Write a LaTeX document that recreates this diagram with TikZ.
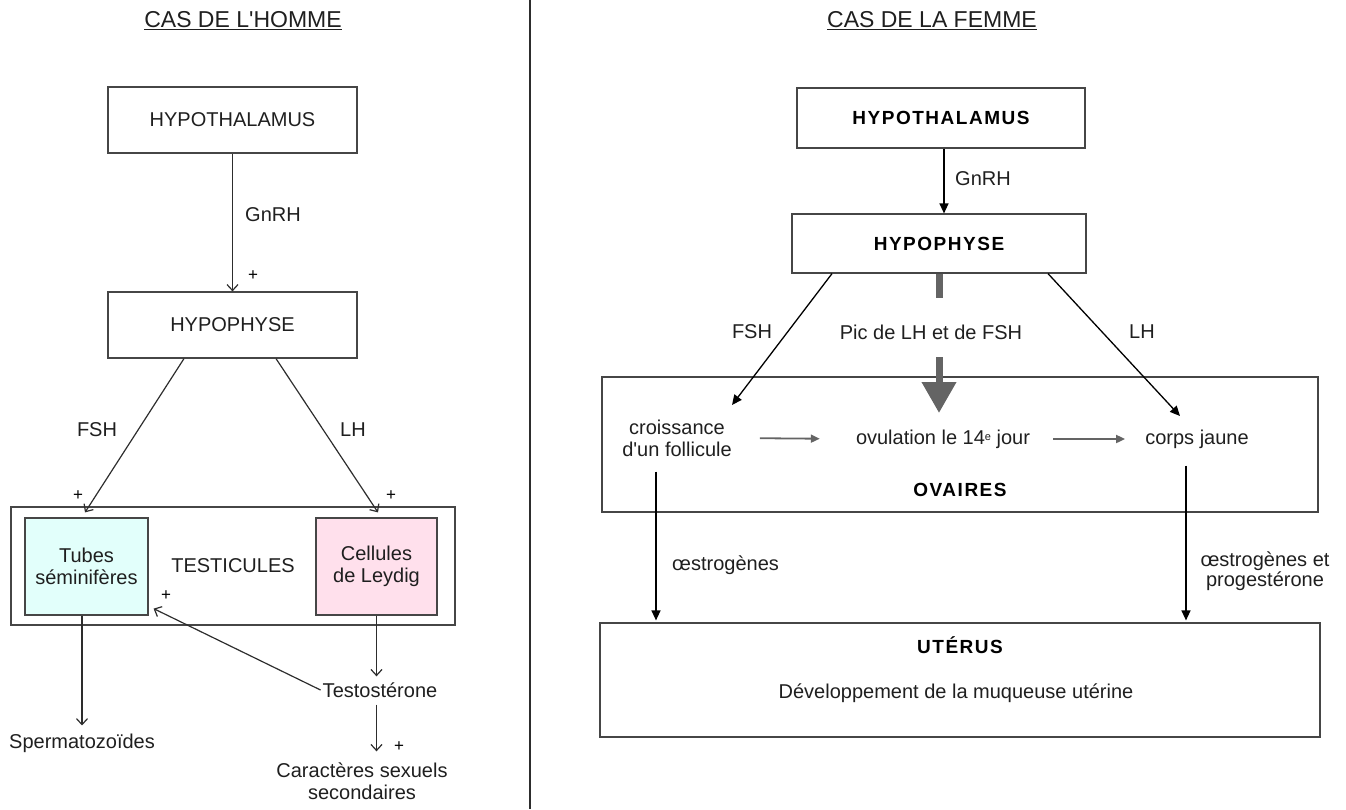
\documentclass[tikz,border=0pt]{standalone}
\usepackage{fontspec}
\setmainfont{Liberation Sans}
\usetikzlibrary{arrows.meta,positioning,calc}
\definecolor{trait}{RGB}{45,45,45}
\definecolor{cadre}{RGB}{70,70,70}
\definecolor{bleutube}{RGB}{226,255,251}
\definecolor{roseleydig}{RGB}{255,224,236}
\definecolor{fleche}{RGB}{100,100,100}
\tikzstyle{boite} = [draw=cadre, line width=1.2pt, inner sep=0pt]
\tikzstyle{texte} = [font=\fontsize{20}{22}\selectfont, text=black!88, align=center, inner sep=2pt]
\tikzstyle{titre} = [font={\fontsize{19}{22}\selectfont\bfseries\addfontfeatures{LetterSpace=8}}, text=black]
\tikzstyle{signe} = [font=\fontsize{17}{18}\selectfont, inner sep=0pt]
\tikzstyle{lien h} = [draw=trait, line width=1.2pt, -{Straight Barb[length=6pt,width=11pt]}]
\tikzstyle{lien f} = [draw=black, line width=1.3pt, -{Triangle[length=10pt,width=9pt]}]
\tikzstyle{lien gris} = [draw=fleche, line width=1.8pt, -{Triangle[length=9pt,width=8pt]}]
\tikzstyle{grosse fleche} = [draw=fleche, line width=7pt]

\begin{document}
\begin{tikzpicture}[x=1pt, y=-1pt]
    \useasboundingbox (0,0) rectangle (1346,809);
    \draw[draw=trait, line width=1.5pt] (530,0) -- (530,809);

    % cas de l'homme
    \node[texte, font=\fontsize{23}{26}\selectfont] (titreh) at (243,21) {\underline{CAS DE L\textquotesingle HOMME}};
    \node[boite, texte, minimum width=249pt, minimum height=66pt] (hypoh) at (232.5,120) {HYPOTHALAMUS};
    \node[boite, texte, minimum width=249pt, minimum height=66pt] (hypophh) at (232.5,325) {HYPOPHYSE};
    \node[boite, texte, minimum width=444pt, minimum height=118pt] (testi) at (233,566) {TESTICULES};
    \node[boite, texte, fill=bleutube, minimum width=123pt, minimum height=97pt] (tubes) at (86.5,566.5) {Tubes\\séminifères};
    \node[boite, texte, fill=roseleydig, minimum width=121pt, minimum height=97pt] (leydig) at (376.5,566.5) {Cellules\\de Leydig};
    \node[texte] (spermato) at (82,743) {Spermatozoïdes};
    \node[texte] (testo) at (380,690) {Testostérone};
    \node[texte] (caract) at (362,781) {Caractères sexuels\\secondaires};

    \draw[lien h] (hypoh) -- (hypophh);
    \node[texte, anchor=west] (gnrhh) at (243,215) {GnRH};
    \draw[lien h] ([xshift=-48.5pt]hypophh.south) -- ([xshift=-1.5pt,yshift=5pt]tubes.north);
    \draw[lien h] ([xshift=43.5pt]hypophh.south) -- ([xshift=1.5pt,yshift=5pt]leydig.north);
    \node[texte] (fshh) at (97,430) {FSH};
    \node[texte] (lhh) at (353,430) {LH};
    \draw[lien h, shorten >=6pt] (tubes.south -| spermato.north) -- (spermato.north);
    \draw[lien h, shorten >=4pt] (leydig.south) -- (leydig.south |- testo.north);
    \draw[lien h] (testo.west) -- ([xshift=5pt,yshift=7pt]tubes.south east);
    \draw[lien h, shorten <=5pt, shorten >=9pt] (testo.south -| leydig.south) -- (leydig.south |- caract.north);
    \node[signe] (p1) at (253,276) {+};
    \node[signe] (p2) at (78,496) {+};
    \node[signe] (p3) at (391,496) {+};
    \node[signe] (p4) at (166,596) {+};
    \node[signe] (p5) at (399,747) {+};

    % cas de la femme
    \node[texte, font=\fontsize{23}{26}\selectfont] (titref) at (932,21) {\underline{CAS DE LA FEMME}};
    \node[boite, texte, titre, minimum width=288pt, minimum height=60pt] (hypof) at (941,118) {HYPOTHALAMUS};
    \node[boite, texte, titre, minimum width=294pt, minimum height=59pt] (hypophf) at (939,243.5) {HYPOPHYSE};
    \node[boite, minimum width=716pt, minimum height=135pt] (ovaires) at (960,444.5) {};
    \node[texte, titre] (ovlabel) at (960,490) {OVAIRES};
    \node[texte] (croiss) at (677,438) {croissance\\d\textquotesingle un follicule};
    \node[texte] (ovul) at (943,439) {ovulation le 14\raisebox{4pt}{\fontsize{11}{11}\selectfont e} jour};
    \node[texte] (corps) at (1197,439) {corps jaune};
    \node[boite, minimum width=720pt, minimum height=114pt] (uterus) at (960,680) {};
    \node[texte, titre] (utlabel) at (960,645) {UTÉRUS};
    \node[texte] (muqueuse) at (956,693) {Développement de la muqueuse utérine};

    \draw[lien f] ([xshift=3pt]hypof.south) -- ([xshift=3pt]hypof.south |- hypophf.north);
    \node[texte, anchor=west] (gnrhf) at (953,179) {GnRH};

    \coordinate (fshtip) at (732,405);
    \coordinate (lhtip) at (1180,416);
    \draw[lien f] ([xshift=-107pt]hypophf.south) -- (fshtip);
    \draw[lien f] ([xshift=109pt]hypophf.south) -- (lhtip);
    \node[texte] (fshf) at (752,332) {FSH};
    \node[texte] (lhf) at (1142,332) {LH};

    \node[texte] (picfsh) at (931,332) {Pic de LH et de FSH};
    \coordinate (pichaut) at (939,298);
    \coordinate (picbas) at (939,357);
    \coordinate (pictip) at (939,413);
    \draw[grosse fleche] (hypophf.south) -- (pichaut);
    \draw[grosse fleche, -{Triangle[length=31pt,width=33pt]}] (picbas) -- (pictip);

    \draw[lien gris, shorten <=26pt, shorten >=34pt] (croiss.east) -- (ovul.west);
    \draw[lien gris, shorten <=21pt, shorten >=18pt] (ovul.east) -- (corps.west);

    \draw[lien f, shorten >=2pt] ([xshift=-21pt,yshift=-13pt]croiss.south) -- ([xshift=-21pt]croiss.south |- uterus.north);
    \draw[lien f, shorten >=2pt] ([xshift=-11pt,yshift=-15pt]corps.south) -- ([xshift=-11pt]corps.south |- uterus.north);
    \node[texte, anchor=west] (oestro) at (670,565) {œstrogènes};
    \node[texte, font=\fontsize{20}{17}\selectfont] (oestroprog) at (1265,571) {œstrogènes et\\progestérone};
\end{tikzpicture}
\end{document}
